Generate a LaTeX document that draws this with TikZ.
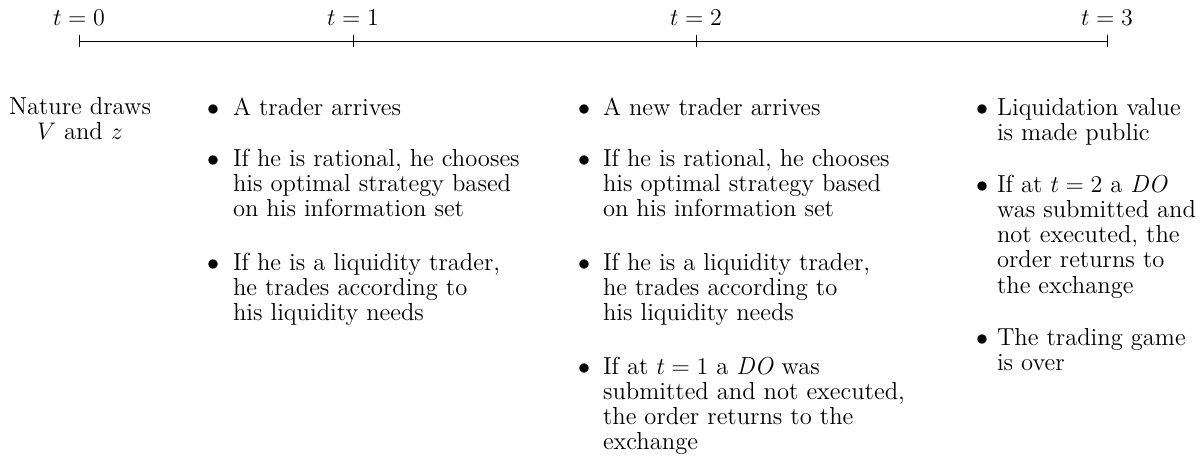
\documentclass[tikz,border=0pt]{standalone}
\begin{document}
\begin{tikzpicture}[x=0.5pt,y=-0.5pt,
  every node/.style={font=\fontsize{12.3}{12.65}\selectfont, inner sep=0pt, outer sep=0pt},
  lbl/.style={anchor=base},
  itemtext/.style={anchor=base west},
  bul/.style={anchor=base}]
\useasboundingbox (0,0) rectangle (1200,468);
% timeline
\coordinate (t0) at (79,41);
\coordinate (t1) at (353,41);
\coordinate (t2) at (696,41);
\coordinate (t3) at (1107,41);
\draw (t0) -- (t3);
\foreach \p in {t0,t1,t2,t3} { \draw (\p) ++(0,-6) -- ++(0,12); }
\node[lbl] (l0) at (79,25) {$t=0$};
\node[lbl] (l1) at (353,25) {$t=1$};
\node[lbl] (l2) at (696,25) {$t=2$};
\node[lbl] (l3) at (1107,25) {$t=3$};
% t = 0
\node[lbl] (n0) at (80,114) {\parbox[t]{90pt}{\centering Nature draws\\ $V$ and $z$}};
% t = 1
\node[bul] (b11) at (213,115) {$\bullet$};
\node[itemtext] (a11) at (233,115) {\parbox[t]{150pt}{A trader arrives}};
\node[bul] (b12) at (213,166) {$\bullet$};
\node[itemtext] (a12) at (233,166) {\parbox[t]{150pt}{If he is rational, he chooses\\ his optimal strategy based\\ on his information set}};
\node[bul] (b13) at (213,270) {$\bullet$};
\node[itemtext] (a13) at (233,270) {\parbox[t]{150pt}{If he is a liquidity trader,\\ he trades according to\\ his liquidity needs}};
% t = 2
\node[bul] (b21) at (584,115) {$\bullet$};
\node[itemtext] (a21) at (603,115) {\parbox[t]{160pt}{A new trader arrives}};
\node[bul] (b22) at (584,166) {$\bullet$};
\node[itemtext] (a22) at (603,166) {\parbox[t]{160pt}{If he is rational, he chooses\\ his optimal strategy based\\ on his information set}};
\node[bul] (b23) at (584,270) {$\bullet$};
\node[itemtext] (a23) at (603,270) {\parbox[t]{160pt}{If he is a liquidity trader,\\ he trades according to\\ his liquidity needs}};
\node[bul] (b24) at (584,374) {$\bullet$};
\node[itemtext] (a24) at (603,374) {\parbox[t]{160pt}{If at $t=1$ a \textit{DO} was\\ submitted and not executed,\\ the order returns to the\\ exchange}};
% t = 3
\node[bul] (b31) at (982,115) {$\bullet$};
\node[itemtext] (a31) at (997,115) {\parbox[t]{100pt}{Liquidation value\\ is made public}};
\node[bul] (b32) at (982,192) {$\bullet$};
\node[itemtext] (a32) at (997,192) {\parbox[t]{100pt}{If at $t=2$ a \textit{DO}\\ was submitted and\\ not executed, the\\ order returns to\\ the exchange}};
\node[bul] (b33) at (982,345) {$\bullet$};
\node[itemtext] (a33) at (997,345) {\parbox[t]{100pt}{The trading game\\ is over}};
\end{tikzpicture}
\end{document}
